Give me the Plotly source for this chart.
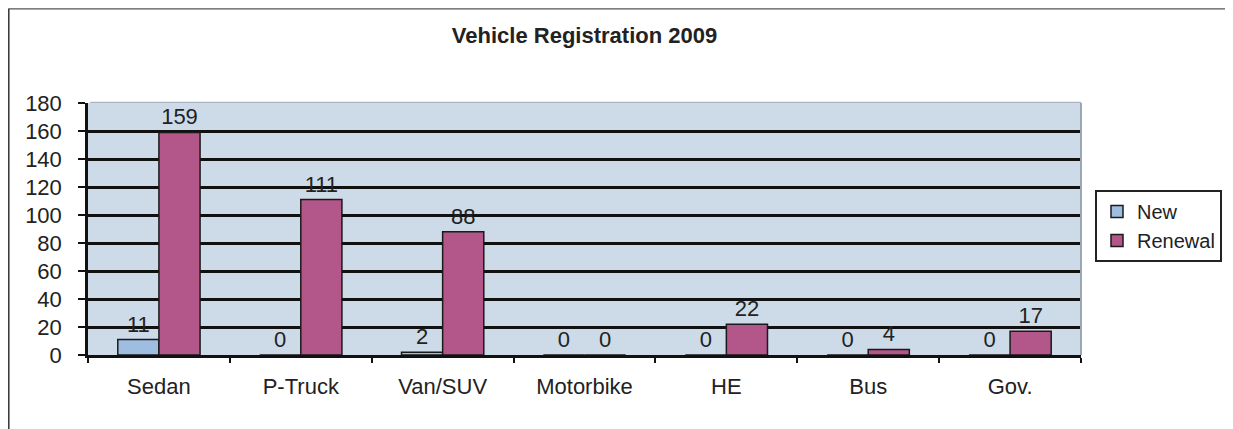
import plotly.graph_objects as go

# vehicle registration counts, 2009
categories = ["Sedan", "P-Truck", "Van/SUV", "Motorbike", "HE", "Bus", "Gov."]
new_counts = [11, 0, 2, 0, 0, 0, 0]
renewal_counts = [159, 111, 88, 0, 22, 4, 17]

# page body has an 8px margin, so the figure is sized/placed for that
W, H = 1225, 421
L, R, T, B = 80, 152, 95, 74
pw, ph = W - L - R, H - T - B

def px_x(x):
    return (x - L) / pw

def px_y(y):
    return (H - B - y) / ph

fig = go.Figure()
fig.add_trace(go.Bar(
    x=categories, y=new_counts, name="New",
    marker=dict(color="#9fbde0", line=dict(color="#1a1a1a", width=1.5)),
    text=new_counts, textposition="outside", cliponaxis=False,
    textfont=dict(size=22, color="#222"),
))
fig.add_trace(go.Bar(
    x=categories, y=renewal_counts, name="Renewal",
    marker=dict(color="#b3568a", line=dict(color="#1a1a1a", width=1.5)),
    text=renewal_counts, textposition="outside", cliponaxis=False,
    textfont=dict(size=22, color="#222"),
))

fig.update_layout(
    width=W, height=H,
    margin=dict(l=L, r=R, t=T, b=B, autoexpand=False),
    paper_bgcolor="white",
    plot_bgcolor="#cddbe8",
    font=dict(family="Arial, Liberation Sans, sans-serif", size=22, color="#222"),
    title=dict(text="<b>Vehicle Registration 2009</b>", x=0.5, xref="paper",
               xanchor="center", y=1 - 27 / H, yref="container", yanchor="middle",
               font=dict(size=22, color="#222")),
    barmode="group", bargap=0.42, bargroupgap=0.0,
    showlegend=True,
    legend=dict(x=px_x(1087), y=px_y(182), xanchor="left", yanchor="top",
                bordercolor="#222", borderwidth=2, bgcolor="white",
                font=dict(size=20), tracegroupgap=8, itemwidth=30),
)
fig.update_yaxes(range=[0, 180], dtick=20, showgrid=True, gridcolor="#111",
                 gridwidth=2.5, showline=True, linecolor="#111", linewidth=2.5,
                 ticks="outside", ticklen=7, tickcolor="#111", tickwidth=2,
                 zeroline=False, ticklabelstandoff=12)
fig.update_xaxes(showline=True, linecolor="#111", linewidth=2.5,
                 ticks="outside", ticklen=5, tickcolor="#111", tickwidth=2,
                 tickson="boundaries", showgrid=False, ticklabelstandoff=10)

# hide the gridline at the top edge, keep a light frame like the original
fig.add_shape(type="line", xref="paper", yref="paper", x0=0.002, x1=1, y0=1, y1=1,
              line=dict(color="#cddbe8", width=3), layer="above")
fig.add_shape(type="line", xref="paper", yref="paper", x0=0.002, x1=1, y0=1.002, y1=1.002,
              line=dict(color="#aab6c2", width=1), layer="above")
fig.add_shape(type="line", xref="paper", yref="paper", x0=1, x1=1, y0=0, y1=1,
              line=dict(color="#9aa6b2", width=2), layer="above")

# outer frame of the chart
fig.add_shape(type="line", xref="paper", yref="paper",
              x0=px_x(0.8), x1=px_x(0.8), y0=px_y(0.5), y1=px_y(H),
              line=dict(color="#333", width=1.5))
fig.add_shape(type="line", xref="paper", yref="paper",
              x0=px_x(0.8), x1=px_x(W), y0=px_y(0.8), y1=px_y(0.8),
              line=dict(color="#555", width=1.2))

fig.write_html("out.html")
